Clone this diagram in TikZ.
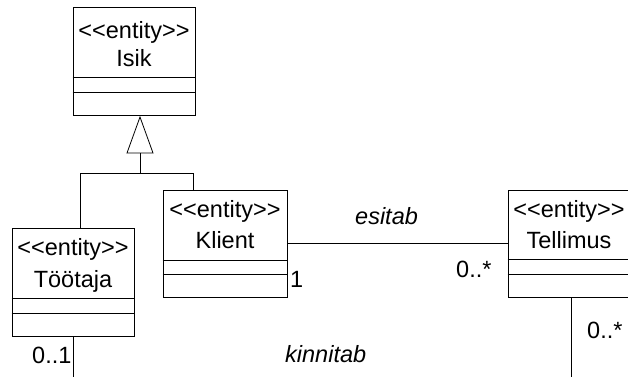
\documentclass[tikz,border=0pt]{standalone}
\usepackage{fontspec}
\setmainfont{Liberation Sans}
\newcommand\entst{<\kern0pt<entity>\kern0pt>}
\begin{document}
\begin{tikzpicture}[x=1pt,y=-1pt,
  cls/.style={draw=black, line width=0.9pt, fill=white, inner sep=0pt, minimum width=122pt, minimum height=107pt},
  txt/.style={inner sep=0pt, anchor=base, font=\fontsize{23.5}{28}\selectfont},
  lbl/.style={inner sep=0pt, anchor=base west, font=\fontsize{23.5}{28}\selectfont},
  ilbl/.style={lbl, font=\fontsize{23.5}{28}\selectfont\itshape},
  conn/.style={line width=0.8pt},
  comp/.style={line width=0.9pt}]
\useasboundingbox (0,0) rectangle (628,376);
\clip (0,0) rectangle (628,376);
\fill[white] (0,0) rectangle (628,376);

% classes
\node[cls, minimum height=108pt] (isik) at (134,61) {};
\node[cls, minimum width=124pt] (klient) at (225,243.5) {};
\node[cls, minimum height=108pt] (tootaja) at (73,282) {};
\node[cls] (tellimus) at (569,243.5) {};

% compartments
\draw[comp] (isik.west |- 0,77) -- (isik.east |- 0,77);
\draw[comp] (isik.west |- 0,92) -- (isik.east |- 0,92);
\draw[comp] (klient.west |- 0,260) -- (klient.east |- 0,260);
\draw[comp] (klient.west |- 0,274) -- (klient.east |- 0,274);
\draw[comp] (tootaja.west |- 0,298) -- (tootaja.east |- 0,298);
\draw[comp] (tootaja.west |- 0,313) -- (tootaja.east |- 0,313);
\draw[comp] (tellimus.west |- 0,259) -- (tellimus.east |- 0,259);
\draw[comp] (tellimus.west |- 0,274) -- (tellimus.east |- 0,274);

% texts
\node[txt] (isikst) at (134,38) {\entst};
\node[txt] (isikn) at (134,66) {Isik};
\node[txt] (klientst) at (225,217) {\entst};
\node[txt] (klientn) at (225,248) {Klient};
\node[txt] (tootajast) at (73,255) {\entst};
\node[txt] (tootajan) at (73,287) {Töötaja};
\node[txt] (tellimusst) at (569,217) {\entst};
\node[txt] (tellimusn) at (569,248) {Tellimus};

% generalization
\coordinate (apex) at (140,117);
\coordinate (tbl) at (127,153);
\coordinate (tbr) at (153,153);
\coordinate (tb) at (140,153);
\coordinate (hj) at (140,173);
\coordinate (hl) at (80,173);
\coordinate (hr) at (193,173);
\draw[conn] (apex) -- (tbl) -- (tbr) -- cycle;
\draw[conn] (tb) -- (hj);
\draw[conn] (hl) -- (hr);
\draw[conn] (hl) -- (hl |- tootaja.north);
\draw[conn] (hr) -- (hr |- klient.north);

% associations
\draw[conn] (klient.east) -- (tellimus.west);
\coordinate (tbot) at (73,380);
\coordinate (telbot) at (571,380);
\draw[conn] (tootaja.south) -- (tbot);
\draw[conn] (tellimus.south -| telbot) -- (telbot);

% labels
\node[ilbl] (esitab) at (355,224) {esitab};
\node[ilbl] (kinnitab) at (285,362) {kinnitab};
\node[lbl] (m1) at (456,277) {0..*};
\node[lbl] (m2) at (290,287) {1};
\node[lbl] (m3) at (32,363) {0..1};
\node[lbl] (m4) at (587,338) {0..*};
\end{tikzpicture}
\end{document}
